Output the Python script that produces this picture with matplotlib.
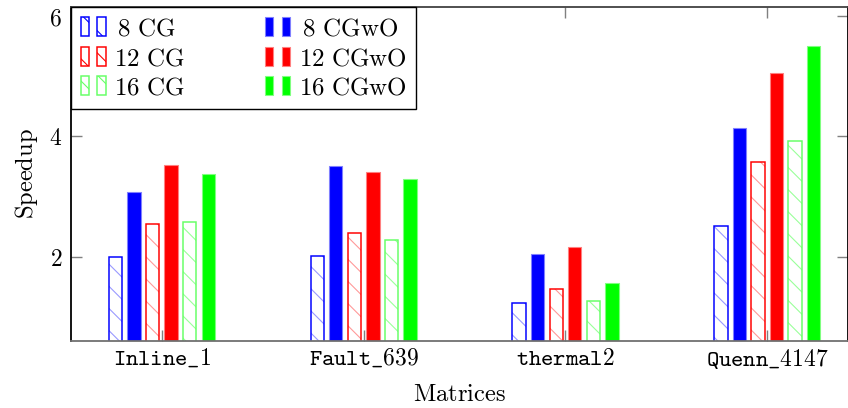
import matplotlib
matplotlib.use("Agg")
import matplotlib.pyplot as plt
import numpy as np
from matplotlib.legend_handler import HandlerTuple
from matplotlib.patches import Rectangle

# higher dpi so the hatch pattern gets the sparser spacing of the original
DPI = 400 / 3


def px(v):
    # pixel size -> points at DPI
    return v * 72.0 / DPI


plt.rcParams['mathtext.fontset'] = 'cm'
plt.rcParams['hatch.linewidth'] = px(1.1)

# data
matrices = ['Inline\\_1', 'Fault\\_639', 'thermal2', 'Quenn\\_4147']
series = ['8 CG', '8 CGwO', '12 CG', '12 CGwO', '16 CG', '16 CGwO']
cg8 = [2.00, 2.01, 1.23, 2.51]
cgwo8 = [3.07, 3.51, 2.05, 4.14]
cg12 = [2.54, 2.40, 1.46, 3.58]
cgwo12 = [3.52, 3.41, 2.17, 5.05]
cg16 = [2.58, 2.28, 1.26, 3.93]
cgwo16 = [3.38, 3.29, 1.56, 5.50]

values = [cg8, cgwo8, cg12, cgwo12, cg16, cgwo16]
cols = ['#0000ff', '#0000ff', '#ff0000', '#ff0000', '#66ff66', '#00ff00']
light = ['#9999ff', '#8080ff', '#ff9999', '#ff8080', '#99ff99', '#80ff80']

fig = plt.figure(figsize=(848 / DPI, 408 / DPI), dpi=DPI)
ax = fig.add_axes([71/848, 67/408, 1 - 71/848, (341 - 7)/408])

x = np.arange(len(matrices))
pitch = 0.092
w = 0.066
handles = []
for i, (vals, c, lc) in enumerate(zip(values, cols, light)):
    pos = x + (i - 2.5) * pitch
    if i % 2 == 0:
        ax.bar(pos, vals, w, bottom=0, color='white', edgecolor=lc, hatch='\\\\', linewidth=0)
        ax.bar(pos, vals, w, bottom=0, fill=False, edgecolor=c, linewidth=px(1.5))
        h = Rectangle((0, 0), 1, 1, facecolor='white', edgecolor=c, hatch='\\\\', linewidth=px(1.5))
    else:
        ax.bar(pos, vals, w, bottom=0, color=c, edgecolor=lc, linewidth=px(1.1))
        h = Rectangle((0, 0), 1, 1, facecolor=c, edgecolor=lc, linewidth=px(1.1))
    handles.append((h, h))

ax.set_xlim(-0.45, 3.4)
ax.set_ylim(0.6, 6.15)
ax.set_xticks(x)
ax.set_xticklabels([r'$\mathtt{' + m + '}$' for m in matrices], fontsize=px(23.5))
ax.set_yticks([2, 4, 6])
ax.set_yticklabels([r'$2$', r'$4$', r'$6$'], fontsize=px(23.5))
ax.tick_params(axis='both', direction='in', length=px(11), color='#808080', width=px(1.4),
               top=True, right=True)
ax.tick_params(axis='x', pad=px(6))
ax.tick_params(axis='y', pad=px(9))
ax.set_xlabel(r'$\mathrm{Matrices}$', fontsize=px(24.5), labelpad=px(11))
ax.set_ylabel(r'$\mathrm{Speedup}$', fontsize=px(24.5), labelpad=px(9))
ax.spines['left'].set_color('black')
ax.spines['bottom'].set_color('#707070')
ax.spines['top'].set_color('#404040')
for s in ax.spines.values():
    s.set_linewidth(px(1.8))

# legend order: column 1 CG, column 2 CGwO
order = [0, 2, 4, 1, 3, 5]
labels = [r'$\mathrm{' + series[k].replace(' ', r'\ ') + '}$' for k in order]
labels = [l.replace(r'{8', r'{\,8') for l in labels]
leg = ax.legend([handles[k] for k in order], labels, ncol=2, loc='upper left',
                fontsize=px(25), handler_map={tuple: HandlerTuple(ndivide=None, pad=0.33)},
                handlelength=1.0, handleheight=0.8, columnspacing=3.2,
                fancybox=False, edgecolor='black', framealpha=1,
                borderaxespad=0, borderpad=0.38, labelspacing=0.22, handletextpad=0.36)
leg.get_frame().set_linewidth(px(1.4))

fig.savefig('out.png', dpi=DPI)
